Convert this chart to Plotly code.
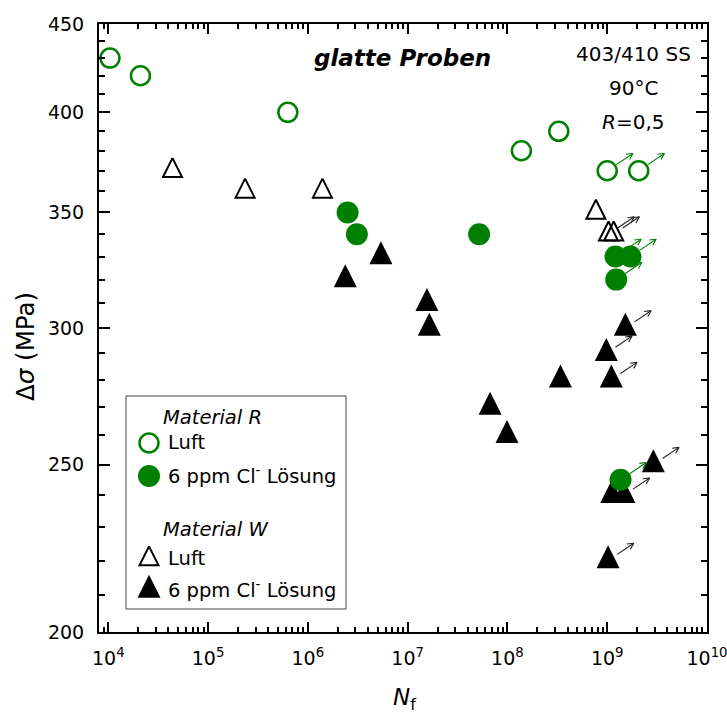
import math
import plotly.graph_objects as go

# ---------------- data ----------------
# Material R, air (open green circles)
r_air_n = [1.04e4, 2.1e4, 6.3e5, 1.38e8, 3.27e8, 1.0e9, 2.07e9]
r_air_s = [430, 420, 400, 380, 390, 370, 370]
r_air_runout = [0, 0, 0, 0, 0, 1, 1]

# Material R, 6 ppm Cl- solution (filled green circles)
r_cl_n = [2.5e6, 3.1e6, 5.2e7, 1.21e9, 1.71e9, 1.23e9, 1.36e9]
r_cl_s = [350, 340, 340, 330, 330, 320, 245]
r_cl_runout = [0, 0, 0, 1, 1, 1, 1]

# Material W, air (open black triangles)
w_air_n = [4.4e4, 2.35e5, 1.4e6, 7.7e8, 1.03e9, 1.16e9]
w_air_s = [370, 360, 360, 350, 340, 340]
w_air_runout = [0, 0, 0, 0, 1, 1]

# Material W, 6 ppm Cl- solution (filled black triangles)
w_cl_n = [2.37e6, 5.4e6, 1.56e7, 1.65e7, 6.7e7, 9.9e7, 3.4e8, 9.8e8,
          1.1e9, 1.52e9, 2.9e9, 1.11e9, 1.47e9, 1.02e9]
w_cl_s = [320, 330, 310, 300, 270, 260, 280, 290, 280, 300, 250, 240, 240, 220]
w_cl_runout = [0, 0, 0, 0, 0, 0, 0, 1, 1, 1, 1, 0, 1, 1]

x_tick_exponents = [4, 5, 6, 7, 8, 9, 10]
y_tick_values = [200, 250, 300, 350, 400, 450]

# ---------------- layout constants ----------------
W, H = 727, 718
ML, MR, MT, MB = 99, 20, 24, 86
PW, PH = W - ML - MR, H - MT - MB
X_RANGE = [3.907, 10.0]
Y_RANGE = [math.log10(200), math.log10(450)]
PX_X = PW / (X_RANGE[1] - X_RANGE[0])   # pixels per decade
PX_Y = PH / (Y_RANGE[1] - Y_RANGE[0])

GREEN = "#008000"
FONT = "DejaVu Sans"


def px_to_data(px, py):
    """Pixel position in the page -> data coordinates on the log axes."""
    lx = X_RANGE[0] + (px - ML) / PX_X
    ly = Y_RANGE[1] - (py - MT) / PX_Y
    return 10 ** lx, 10 ** ly


def px_to_paper(px, py):
    return (px - ML) / PW, 1 - (py - MT) / PH


def runout_arrows(ns, ss, flags, ang=34, d0=11, d1=31, head=7, spread=27):
    """Build line segments for the run-out arrows (shaft and open head)."""
    xs, ys = [], []
    a = math.radians(ang)
    for n, s, f in zip(ns, ss, flags):
        if not f:
            continue
        lx, ly = math.log10(n), math.log10(s)

        def pt(dx, dy):
            return 10 ** (lx + dx / PX_X), 10 ** (ly + dy / PX_Y)

        sx, sy = pt(d0 * math.cos(a), d0 * math.sin(a))
        tx, ty = d1 * math.cos(a), d1 * math.sin(a)
        ex, ey = pt(tx, ty)
        xs += [sx, ex, None]
        ys += [sy, ey, None]
        for sgn in (-1, 1):
            b = a + math.pi + sgn * math.radians(spread)
            hx, hy = pt(tx + head * math.cos(b), ty + head * math.sin(b))
            xs += [hx, ex, None]
            ys += [hy, ey, None]
    return xs, ys


fig = go.Figure()

# upward triangle with its centroid on the data point
TRI_FILLED = dict(symbol="arrow-down", angle=180)
TRI_OPEN = dict(symbol="arrow-down-open", angle=180)

FILLED_TRI = dict(TRI_FILLED, size=23, standoff=23 * 2 / 3, color="black",
                  line=dict(width=0))
OPEN_TRI = dict(TRI_OPEN, size=19, standoff=19 * 2 / 3, color="black",
                line=dict(width=2, color="black"))
OPEN_CIRC = dict(symbol="circle-open", size=19, color=GREEN,
                 line=dict(width=2.5, color=GREEN))
FILLED_CIRC = dict(symbol="circle", size=22, color=GREEN, line=dict(width=0))

series = [
    (w_cl_n, w_cl_s, w_cl_runout, "#222222", FILLED_TRI),
    (w_air_n, w_air_s, w_air_runout, "#222222", OPEN_TRI),
    (r_air_n, r_air_s, r_air_runout, GREEN, OPEN_CIRC),
    (r_cl_n, r_cl_s, r_cl_runout, GREEN, FILLED_CIRC),
]

for ns, ss, flags, acol, mk in series:
    ax_, ay_ = runout_arrows(ns, ss, flags)
    fig.add_trace(go.Scatter(x=ax_, y=ay_, mode="lines",
                             line=dict(color=acol, width=1.1),
                             hoverinfo="skip", showlegend=False))
    fig.add_trace(go.Scatter(x=ns, y=ss, mode="markers", marker=mk,
                             showlegend=False))

# ---------------- legend (drawn inside the plot) ----------------
LEG_BOX = (126, 396, 346, 609)
legend_rows = [
    ("title", "<i>Material R</i>", 417, None),
    ("item", "Luft", 443, OPEN_CIRC),
    ("item", "6 ppm Cl<sup>-</sup> Lösung", 476, FILLED_CIRC),
    ("title", "<i>Material W</i>", 529, None),
    ("item", "Luft", 559, OPEN_TRI),
    ("item", "6 ppm Cl<sup>-</sup> Lösung", 590, FILLED_TRI),
]

x0p, y0p = px_to_paper(LEG_BOX[0], LEG_BOX[1])
x1p, y1p = px_to_paper(LEG_BOX[2], LEG_BOX[3])
fig.add_shape(type="rect", xref="paper", yref="paper", x0=x0p, y0=y1p,
              x1=x1p, y1=y0p, line=dict(color="#444444", width=1),
              fillcolor="white", layer="below")

annotations = []
for kind, text, ypx, mk in legend_rows:
    if kind == "title":
        xp, yp = px_to_paper(161, ypx)
    else:
        mx, my = px_to_data(149, ypx)
        fig.add_trace(go.Scatter(x=[mx], y=[my], mode="markers", marker=mk,
                                 showlegend=False, hoverinfo="skip"))
        xp, yp = px_to_paper(166, ypx - 1)
    annotations.append(dict(x=xp, y=yp, xref="paper", yref="paper",
                            text=text, showarrow=False, xanchor="left",
                            yanchor="middle",
                            font=dict(family=FONT, size=19.5, color="black")))


# ---------------- text labels ----------------
def label(px, py, text, size, **kw):
    xp, yp = px_to_paper(px, py)
    d = dict(x=xp, y=yp, xref="paper", yref="paper", text=text,
             showarrow=False, xanchor="center", yanchor="middle",
             font=dict(family=FONT, size=size, color="black"))
    d.update(kw)
    annotations.append(d)


label(402, 58, "<b><i>glatte Proben</i></b>", 23)
label(633, 54, "403/410 SS", 20)
label(633, 88, "90°C", 20)
label(633, 122, "<i>R</i>=0,5", 20)
label(25, 347, "Δ<i>σ</i> (MPa)", 24.5, textangle=-90)
label(404, 699, "<i>N</i><sub>f</sub>", 23)

# ---------------- axes ----------------
x_minor = [k * 10 ** e for e in range(3, 10) for k in range(2, 10)
           if X_RANGE[0] <= math.log10(k * 10 ** e) <= X_RANGE[1]]
y_minor = [v for v in range(210, 450, 10) if v not in y_tick_values]

axis_common = dict(
    showgrid=False, zeroline=False, showline=True, linewidth=2,
    linecolor="black", mirror="ticks", ticks="inside", tickwidth=1.5,
    tickcolor="black", tickfont=dict(family=FONT, size=19, color="black"),
    ticklabeloverflow="allow", automargin=False,
)

fig.update_xaxes(
    type="log", range=X_RANGE,
    tickvals=[10 ** e for e in x_tick_exponents],
    ticktext=[f"10<sup>{e}</sup>" for e in x_tick_exponents],
    ticklen=10, ticklabelstandoff=8,
    minor=dict(tickvals=x_minor, ticklen=5, tickwidth=1.5,
               tickcolor="black", ticks="inside"),
    **axis_common,
)
fig.update_yaxes(
    type="log", range=Y_RANGE,
    tickvals=y_tick_values, ticktext=[str(v) for v in y_tick_values],
    ticklen=11, ticklabelstandoff=9,
    minor=dict(tickvals=y_minor, ticklen=6, tickwidth=1.5,
               tickcolor="black", ticks="inside"),
    **axis_common,
)

fig.update_layout(
    width=W, height=H,
    margin=dict(l=ML, r=MR, t=MT, b=MB, pad=0, autoexpand=False),
    paper_bgcolor="white", plot_bgcolor="white",
    showlegend=False,
    annotations=annotations,
    font=dict(family=FONT, color="black"),
)

fig.write_html("out.html")
